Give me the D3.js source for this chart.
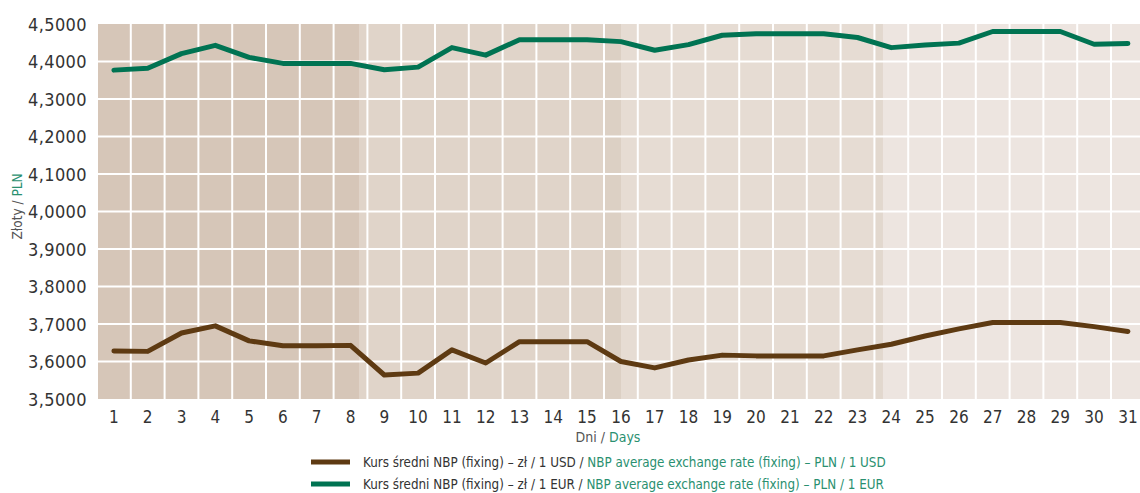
<!DOCTYPE html>
<html><head><meta charset="utf-8">
<script src="https://cdn.jsdelivr.net/npm/d3@7"></script>
<style>
html,body{margin:0;padding:0;background:#fff;}
svg{display:block;font-family:"Liberation Sans Narrow","DejaVu Sans Condensed","Arial Narrow",sans-serif;}
</style></head>
<body>
<svg id="chart" width="1140" height="493"></svg>
<script>
const days = d3.range(1, 32).map(String);
const usd = [3.628,3.627,3.676,3.695,3.655,3.642,3.642,3.643,3.564,3.569,3.631,3.596,3.653,3.653,3.653,3.600,3.583,3.604,3.617,3.615,3.615,3.615,3.631,3.646,3.668,3.687,3.704,3.704,3.704,3.693,3.680];
const eur = [4.377,4.382,4.421,4.443,4.411,4.395,4.395,4.395,4.378,4.385,4.437,4.417,4.458,4.458,4.458,4.453,4.430,4.445,4.470,4.474,4.474,4.474,4.464,4.437,4.444,4.449,4.480,4.480,4.480,4.446,4.448];
const yTicks = [3.5,3.6,3.7,3.8,3.9,4.0,4.1,4.2,4.3,4.4,4.5];
const seriesNames = ["USD","EUR"];
const legendPl = ["Kurs średni NBP (fixing) – zł / 1 USD / ","Kurs średni NBP (fixing) – zł / 1 EUR / "];
const legendEn = ["NBP average exchange rate (fixing) – PLN / 1 USD","NBP average exchange rate (fixing) – PLN / 1 EUR"];
const bgBands = ["#d6c6b8","#e0d4c9","#e6dcd3","#ede5e0"];

const svg = d3.select("#chart");
const pL = 97, pT = 24, pB = 399, bw = 33.8;
const pR = pL + bw * days.length;
const x = d3.scaleBand().domain(days).range([pL, pR]).paddingInner(0).paddingOuter(0);
const y = d3.scaleLinear().domain([3.5, 4.5]).range([pB, pT]);
const gray = "#333", teal = "#2a9070";

// background bands (quarters)
const qw = (pR - pL) / 4;
svg.append("g").selectAll("rect").data(bgBands).join("rect")
  .attr("x", (d,i) => pL + i*qw).attr("y", pT)
  .attr("width", qw + 0.5).attr("height", pB - pT)
  .attr("fill", d => d);
svg.append("rect").attr("x", pL + 2*qw - 16).attr("y", pT).attr("width", 16).attr("height", pB-pT).attr("fill", "#dcd0c4");
svg.append("rect").attr("x", pL + 3*qw - 7).attr("y", pT).attr("width", 7).attr("height", pB-pT).attr("fill", "#e2d8ce");

// grid
const grid = svg.append("g").attr("stroke", "#fff").attr("stroke-width", 2);
grid.selectAll("line.h").data(yTicks.slice(1, -1)).join("line").attr("class","h")
  .attr("x1", pL).attr("x2", pR).attr("y1", d => y(d)).attr("y2", d => y(d));
grid.selectAll("line.v").data(days).join("line").attr("class","v")
  .attr("x1", d => x(d)).attr("x2", d => x(d)).attr("y1", pT).attr("y2", pB);

// axes
const loc = d3.formatLocale({decimal: ",", thousands: " ", grouping: [3], currency: ["", ""]});
const yAxis = d3.axisLeft(y).tickValues(yTicks).tickFormat(loc.format(".4f")).tickSize(0).tickPadding(0);
const gy = svg.append("g").attr("transform", `translate(${pL - 10},0)`).call(yAxis);
gy.select(".domain").remove();
gy.attr("font-family", null).attr("font-size", null);
gy.selectAll("text").attr("fill", gray).style("font-size", "18px").style("letter-spacing", "0.4px")
  .attr("dy", "0.36em");

const xAxis = d3.axisBottom(x).tickSize(0).tickPadding(0);
const gx = svg.append("g").attr("transform", `translate(0,${pB + 12})`).call(xAxis);
gx.select(".domain").remove();
gx.attr("font-family", null).attr("font-size", null);
gx.selectAll("text").attr("fill", gray).style("font-size", "17px").attr("dy", "0.72em");

// axis titles
const yt = svg.append("text").attr("transform", `translate(22,${(pT+pB)/2 - 5}) rotate(-90)`)
  .attr("text-anchor", "middle").style("font-size", "13.5px");
yt.append("tspan").attr("fill", "#555").text("Złoty / ");
yt.append("tspan").attr("fill", teal).text("PLN");

const xt = svg.append("text").attr("x", 608).attr("y", 442).attr("text-anchor", "middle").style("font-size", "14px");
xt.append("tspan").attr("fill", "#555").text("Dni / ");
xt.append("tspan").attr("fill", teal).text("Days");

// lines
const colors = {USD: "#5e3a12", EUR: "#007352"};
const line = d3.line().x((d,i) => x(days[i]) + x.bandwidth()/2).y(d => y(d));
[usd, eur].forEach((s, k) => {
  svg.append("path").datum(s).attr("d", line).attr("fill", "none")
    .attr("stroke", colors[seriesNames[k]]).attr("stroke-width", 5)
    .attr("stroke-linejoin", "round").attr("stroke-linecap", "round");
});

// legend
const lg = svg.append("g");
seriesNames.forEach((n, i) => {
  const cy = 462 + i*22;
  lg.append("line").attr("x1", 311).attr("x2", 350).attr("y1", cy).attr("y2", cy)
    .attr("stroke", colors[n]).attr("stroke-width", 5);
  const t = lg.append("text").attr("x", 363).attr("y", cy).attr("dy", "0.35em").style("font-size", "13.3px");
  t.append("tspan").attr("fill", gray).text(legendPl[i]);
  t.append("tspan").attr("fill", teal).text(legendEn[i]);
});
</script>
</body></html>
